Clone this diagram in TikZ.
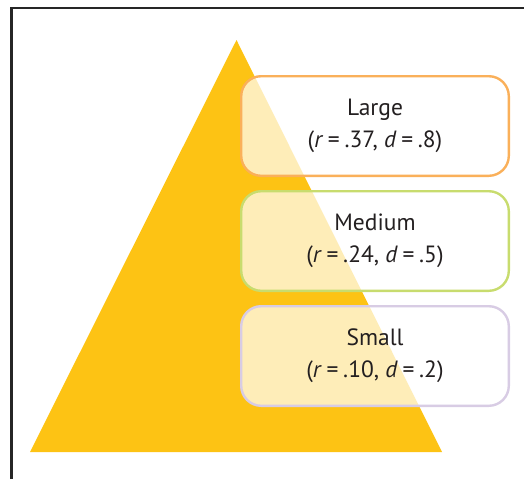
\documentclass[tikz,border=0pt]{standalone}
\usepackage{fontspec}
\setmainfont{PT Sans}
\usetikzlibrary{positioning}
\definecolor{pyrgold}{RGB}{253,195,20}
\definecolor{lgorange}{RGB}{250,176,90}
\definecolor{mdgreen}{RGB}{200,220,110}
\definecolor{smpurple}{RGB}{216,204,228}
\definecolor{txtgray}{RGB}{35,31,32}
\newcommand{\eqsp}{\hspace{0.2em}=\hspace{0.2em}}

\begin{document}
\begin{tikzpicture}[x=1pt,y=-1pt,
  every node/.style={font=\fontsize{23.5}{32}\selectfont,text=txtgray},
  sizebox/.style={draw=#1,line width=2.4pt,rounded corners=20pt,fill=white,fill opacity=0.7,text opacity=1,align=center,minimum width=267.6pt,minimum height=99.6pt}]
\useasboundingbox (0,0) rectangle (524,479);
\draw[line width=2.2pt,black!85] (11.5,479) -- (11.5,8) -- (524,8);
\fill[pyrgold] (236.5,40) -- (442,452) -- (30,452) -- cycle;
\node[sizebox=lgorange] (large) at (375,126) {Large\\(\textit{r}\eqsp.37, \textit{d}\eqsp.8)};
\node[sizebox=mdgreen] (medium) at (375,241) {Medium\\(\textit{r}\eqsp.24, \textit{d}\eqsp.5)};
\node[sizebox=smpurple] (small) at (375,356) {Small\\(\textit{r}\eqsp.10, \textit{d}\eqsp.2)};
\end{tikzpicture}
\end{document}
